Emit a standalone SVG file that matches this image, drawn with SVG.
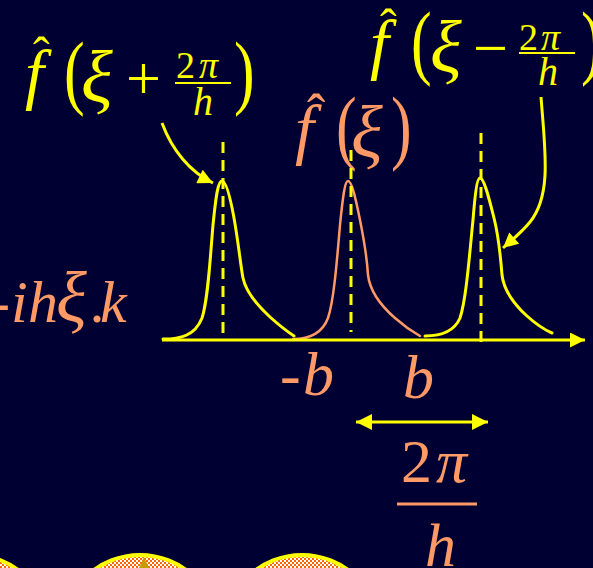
<svg xmlns="http://www.w3.org/2000/svg" width="593" height="568" viewBox="0 0 593 568">
<defs>
<style>
.y{fill:#FFFF00}
.s{fill:#FF9966}
.it{font-family:"Liberation Serif","Times New Roman",serif;font-style:italic}
.rm{font-family:"Liberation Serif","Times New Roman",serif;font-style:normal}
.big{font-size:62px}
.ff{font-size:68px}
.xi{font-size:74px}
.par{font-size:62px}
.frac{font-size:38px}
.hat{font-size:50px}
.curveY{fill:none;stroke:#FFFF00;stroke-width:3;stroke-linejoin:round;stroke-linecap:round}
.curveS{fill:none;stroke:#FF9966;stroke-width:2.5;stroke-linejoin:round;stroke-linecap:round}
.dash{fill:none;stroke:#FFFF00;stroke-width:3;stroke-dasharray:11 7}
.arr{fill:none;stroke:#FFFF00;stroke-width:3}
</style>
<marker id="head" viewBox="0 0 10 10" refX="10" refY="5" markerUnits="userSpaceOnUse" markerWidth="16" markerHeight="15" orient="auto-start-reverse">
<path d="M0,0 L10,5 L0,10 z" fill="#FFFF00"/>
</marker>
<marker id="head2" viewBox="0 0 10 10" refX="10" refY="5" markerUnits="userSpaceOnUse" markerWidth="16" markerHeight="17" orient="auto-start-reverse">
<path d="M0,0 L10,5 L0,10 z" fill="#FFFF00"/>
</marker>
<pattern id="check" width="4" height="4" patternUnits="userSpaceOnUse">
<rect width="4" height="4" fill="#FF6600"/>
<rect width="2" height="2" fill="#FFFFFF"/>
<rect x="2" y="2" width="2" height="2" fill="#FFFFFF"/>
</pattern>
</defs>
<rect width="593" height="568" fill="#000033"/>

<g id="discs">
<circle cx="-28" cy="633" r="78" fill="url(#check)" stroke="#FFFF00" stroke-width="4"/>
<circle cx="140" cy="633" r="78" fill="url(#check)" stroke="#FFFF00" stroke-width="4"/>
<circle cx="302" cy="633" r="78" fill="url(#check)" stroke="#FFFF00" stroke-width="4"/>
<path d="M144,557 L149,568 L139,568 z" fill="#CC9900"/>
</g>

<g id="label-f-plus">
<text class="rm hat y" x="33" y="72">ˆ</text>
<text class="it ff y" x="25" y="97">f</text>
<text class="rm par y" transform="translate(64,98.5) scale(1,1.33)">(</text>
<text class="it xi y" x="81" y="102">ξ</text>
<text class="rm big y" x="126" y="99">+</text>
<text class="rm frac y" x="176" y="78">2</text>
<text class="it frac y" x="199" y="78">π</text>
<line x1="175" y1="83" x2="231" y2="83" stroke="#FFFF00" stroke-width="2"/>
<text class="it y" style="font-size:40px" x="193" y="115">h</text>
<text class="rm par y" transform="translate(234,98.5) scale(1,1.33)">)</text>
</g>

<g id="label-f-minus">
<text class="rm hat y" x="380" y="44">ˆ</text>
<text class="it ff y" x="370" y="67">f</text>
<text class="rm par y" transform="translate(411,68.5) scale(1,1.33)">(</text>
<text class="it xi y" x="430" y="72">ξ</text>
<text class="rm big y" x="473" y="69">−</text>
<text class="rm frac y" x="519" y="50">2</text>
<text class="it frac y" x="541" y="50">π</text>
<line x1="519" y1="53" x2="575" y2="53" stroke="#FFFF00" stroke-width="2"/>
<text class="it y" style="font-size:40px" x="538" y="85">h</text>
<text class="rm par y" transform="translate(581,68.5) scale(1,1.33)">)</text>
</g>

<g id="label-f">
<text class="rm s" style="font-size:55px" x="307" y="132">ˆ</text>
<text class="it ff s" x="295" y="152">f</text>
<text class="rm par s" transform="translate(336,153.5) scale(1,1.33)">(</text>
<text class="it xi s" x="351" y="157">ξ</text>
<text class="rm par s" transform="translate(391,153.5) scale(1,1.33)">)</text>
</g>

<g id="label-exp">
<text class="it s" style="font-size:60px" y="322"><tspan x="-10">-</tspan><tspan x="11">i</tspan><tspan x="28">h</tspan><tspan x="56" style="font-size:72px">ξ</tspan><tspan x="91">.</tspan><tspan x="100">k</tspan></text>
</g>

<g id="label-b">
<text class="it big s" x="280 303" y="395">-b</text>
<text class="it big s" x="403" y="398">b</text>
</g>

<g id="label-period">
<text class="rm big s" x="401" y="482">2</text>
<text class="it big s" x="436" y="482">π</text>
<line x1="397" y1="504" x2="477" y2="504" stroke="#FF9966" stroke-width="3"/>
<text class="it big s" x="425" y="566">h</text>
</g>

<g id="peak-left">
<path class="curveY" d="M163,339 C180,339 195,336 202,318 C208,300 210,260 213,225 C216,195 218,181 222,181 C226,181 230,196 234,218 C238,240 241,268 243,278 C246,292 258,306 270,317 C280,326 288,332 294,336"/>
</g>
<g id="peak-center">
<path class="curveS" d="M293,339 C308,339 322,334 328,318 C334,300 337,260 340,225 C343,195 345,181 348,181 C352,181 356,200 360,220 C364,240 367,258 368,275 C370,292 380,305 395,318 C405,327 413,332 420,336"/>
</g>
<g id="peak-right">
<path class="curveY" d="M425,336 C440,336 454,332 460,318 C466,300 469,260 473,220 C475,195 477,178 480,178 C484,178 489,198 494,218 C499,238 501,262 502,275 C504,292 515,305 527,316 C537,325 545,330 552,333"/>
</g>

<g id="axis">
<line class="arr" x1="162" y1="340" x2="585" y2="340" marker-end="url(#head)"/>
</g>

<g id="guides">
<line class="dash" x1="223" y1="142" x2="223" y2="340"/>
<line class="dash" x1="351" y1="150" x2="351" y2="332"/>
<line class="dash" x1="481" y1="133" x2="481" y2="345"/>
</g>

<g id="connectors">
<path class="arr" d="M162,123 C172,150 190,172 213,183" marker-end="url(#head)"/>
<path class="arr" d="M541,97 C545,150 552,195 530,222 C522,232 512,240 503,248" marker-end="url(#head)"/>
<line class="arr" x1="356" y1="422" x2="488" y2="422" marker-start="url(#head2)" marker-end="url(#head2)"/>
</g>
</svg>
